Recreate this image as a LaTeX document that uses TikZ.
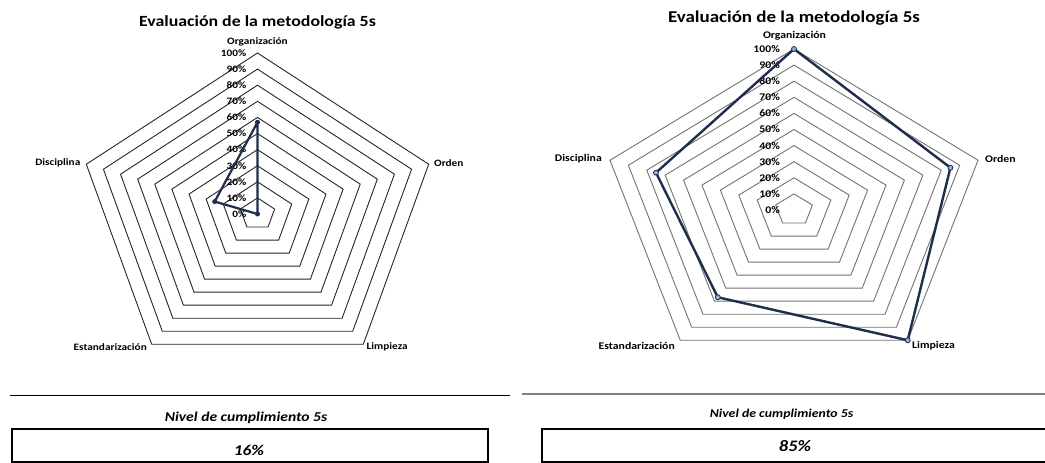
\documentclass[tikz,border=0pt]{standalone}
\usepackage{fontspec}
\setmainfont{Carlito}
\newfontfamily\chartfont[FakeStretch=1.15]{Carlito}
\definecolor{seriesblue}{HTML}{1E2E4C}
\definecolor{markerfill}{HTML}{8DB3E2}
\begin{document}
\begin{tikzpicture}[x=1pt,y=-1pt,
  gridL/.style={draw=black!85,line width=0.9pt},
  gridR/.style={draw=black!55,line width=0.9pt},
  seriesL/.style={draw=seriesblue,line width=2.2pt,line join=round},
  seriesR/.style={draw=seriesblue,line width=2.4pt,line join=round},
  dotL/.style={circle,fill=seriesblue,inner sep=0pt,minimum size=5pt},
  dotR/.style={circle,draw=seriesblue,fill=markerfill,line width=0.8pt,inner sep=0pt,minimum size=5pt},
  titleL/.style={font=\chartfont\bfseries\fontsize{15.5}{18}\selectfont,anchor=base},
  titleR/.style={font=\chartfont\bfseries\fontsize{16.5}{19}\selectfont,anchor=base},
  axisL/.style={font=\chartfont\bfseries\fontsize{9.8}{11}\selectfont,inner sep=0pt},
  axisR/.style={font=\chartfont\bfseries\fontsize{10.2}{12}\selectfont,inner sep=0pt},
  pctL/.style={font=\chartfont\bfseries\fontsize{9.8}{11}\selectfont,inner sep=0pt,anchor=east},
  pctR/.style={font=\chartfont\bfseries\fontsize{10.2}{12}\selectfont,inner sep=0pt,anchor=east},
  caption/.style={font=\chartfont\bfseries\itshape,anchor=base},
  valbox/.style={draw=black,line width=1.8pt}]
\useasboundingbox (0,0) rectangle (1045,463);
\clip (0,0) rectangle (1045,463);
\fill[white] (0,0) rectangle (1045,463);

% ---------- left radar chart ----------
\node[titleL] (tL) at (257.5,27) {Evaluación de la metodología 5s};
\begin{scope}[shift={(257.5pt,-214pt)},x=180pt,y=161pt]
  \foreach \k in {1,...,10}{
    \pgfmathsetmacro\r{\k/10}
    \draw[gridL] (90:\r) -- (18:\r) -- (-54:\r) -- (-126:\r) -- (162:\r) -- cycle;
  }
  \foreach \k in {0,...,10}{
    \pgfmathsetmacro\r{\k/10}
    \pgfmathtruncatemacro\p{\k*10}
    \node[pctL] (pL\k) at ([xshift=-11pt]90:\r) {\p\%};
  }
  \coordinate (Lorg) at (90:0.57);
  \coordinate (Lord) at (18:0);
  \coordinate (Llim) at (-54:0);
  \coordinate (Lest) at (-126:0);
  \coordinate (Ldis) at (162:0.25);
\end{scope}
\draw[seriesL] (Lorg) -- (Lord) -- (Llim) -- (Lest) -- (Ldis) -- cycle;
\foreach \c in {Lorg,Lord,Ldis}{\node[dotL] at (\c) {};}
\node[axisL] (aLorg) at (257.5,42) {Organización};
\node[axisL,anchor=west] (aLord) at (434,163) {Orden};
\node[axisL,anchor=west] (aLlim) at (366.5,347) {Limpieza};
\node[axisL,anchor=east] (aLest) at (147,347) {Estandarización};
\node[axisL,anchor=east] (aLdis) at (80.5,163) {Disciplina};

% ---------- right radar chart ----------
\node[titleR] (tR) at (794,22.5) {Evaluación de la metodología 5s};
\begin{scope}[shift={(794pt,-210pt)},x=193.5pt,y=161pt]
  \foreach \k in {1,...,10}{
    \pgfmathsetmacro\r{\k/10}
    \draw[gridR] (90:\r) -- (18:\r) -- (-54:\r) -- (-126:\r) -- (162:\r) -- cycle;
  }
  \foreach \k in {0,...,10}{
    \pgfmathsetmacro\r{\k/10}
    \pgfmathtruncatemacro\p{\k*10}
    \node[pctR] (pR\k) at ([xshift=-14pt]90:\r) {\p\%};
  }
  \coordinate (Rorg) at (90:1);
  \coordinate (Rord) at (18:0.85);
  \coordinate (Rlim) at (-54:1);
  \coordinate (Rest) at (-126:0.67);
  \coordinate (Rdis) at (162:0.75);
\end{scope}
\draw[seriesR] (Rorg) -- (Rord) -- (Rlim) -- (Rest) -- (Rdis) -- cycle;
\foreach \c in {Rorg,Rord,Rlim,Rest,Rdis}{\node[dotR] at (\c) {};}
\node[axisR] (aRorg) at (794.5,36) {Organización};
\node[axisR,anchor=west] (aRord) at (985,159) {Orden};
\node[axisR,anchor=west] (aRlim) at (912,345.5) {Limpieza};
\node[axisR,anchor=east] (aRest) at (675,345.5) {Estandarización};
\node[axisR,anchor=east] (aRdis) at (602,158.5) {Disciplina};

% ---------- compliance summaries ----------
\draw[black,line width=1pt] (10,395.5) -- (510,395.5);
\draw[black!50,line width=2pt] (522,394) -- (1050,394);
\node[caption,font=\chartfont\bfseries\itshape\fontsize{13.6}{16}\selectfont] (cL) at (246,421.5) {Nivel de cumplimiento 5s};
\node[caption,font=\chartfont\bfseries\itshape\fontsize{12}{14}\selectfont] (cR) at (781.5,417.5) {Nivel de cumplimiento 5s};
\draw[valbox] (12,429) rectangle (488,462);
\draw[valbox] (542,429) rectangle (1060,462);
\node[caption,font=\chartfont\bfseries\itshape\fontsize{15}{18}\selectfont] (vL) at (249,455) {16\%};
\node[caption,font=\chartfont\bfseries\itshape\fontsize{16}{18}\selectfont] (vR) at (795,451) {85\%};
\end{tikzpicture}
\end{document}
